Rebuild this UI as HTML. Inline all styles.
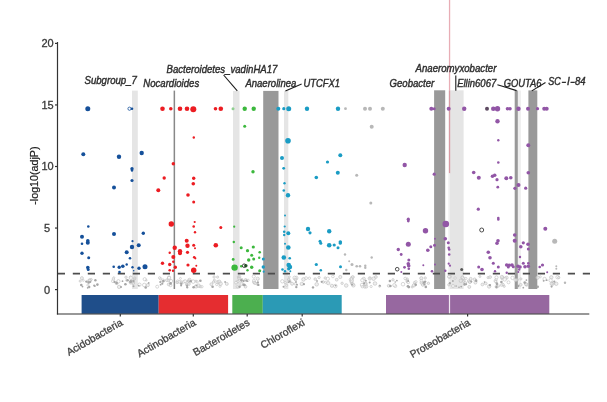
<!DOCTYPE html>
<html><head><meta charset="utf-8">
<style>
html,body{margin:0;padding:0;background:#fff;}
body{width:607px;height:402px;overflow:hidden;}
svg{display:block;filter:blur(0.35px);}
text{font-family:"Liberation Sans",Arial,sans-serif;}
.lab{font-style:italic;font-size:10.2px;fill:#2e2e2e;stroke:#2e2e2e;stroke-width:0.4px;}
.yt{font-size:11px;fill:#3a3a3a;stroke:#3a3a3a;stroke-width:0.3px;}
.xt{font-size:10.4px;fill:#444;stroke:#444;stroke-width:0.3px;}
</style></head>
<body>
<svg width="607" height="402" viewBox="0 0 607 402">
<rect x="0" y="0" width="607" height="402" fill="#fff"/>
<!-- highlight bars -->
<g id="bars">
<rect x="132" y="90.6" width="5.8" height="198.4" fill="#e5e5e5"/>
<rect x="173.6" y="90.6" width="1.5" height="198.4" fill="#888"/>
<rect x="233" y="90.9" width="6.5" height="198.1" fill="#e5e5e5"/>
<rect x="263.2" y="90.9" width="15.3" height="198.1" fill="#999"/>
<rect x="284" y="90.9" width="4.3" height="198.1" fill="#e5e5e5"/>
<rect x="434.1" y="90.3" width="11.1" height="198.7" fill="#999"/>
<rect x="448.7" y="90.3" width="14.9" height="198.7" fill="#e5e5e5"/>
<rect x="514.7" y="90.5" width="3.2" height="198.5" fill="#999"/>
<rect x="517.9" y="90.5" width="3" height="198.5" fill="#efefef"/>
<rect x="528.4" y="90.4" width="8.9" height="198.6" fill="#999"/>
<rect x="448.9" y="0" width="1.3" height="90.3" fill="#e8adb5"/>
<rect x="448.9" y="90.3" width="1.3" height="83" fill="#d99aa3"/>
<rect x="448.7" y="173.3" width="1.3" height="116" fill="#efefef"/>
</g>
<!-- threshold -->
<line x1="57.8" y1="273.7" x2="590" y2="273.7" stroke="#4d4d4d" stroke-width="1.7" stroke-dasharray="7.2 7.8"/>
<!-- dots -->
<g id="dots"><g id="gray"><circle cx="81.9" cy="278.1" r="1.5" fill="#e2e2e2" fill-opacity="0.6" stroke="#bdbdbd" stroke-width="0.6"/><circle cx="83.2" cy="280.3" r="1.0" fill="#ffffff" fill-opacity="0.6" stroke="#bdbdbd" stroke-width="0.6"/><circle cx="80.2" cy="281.1" r="1.1" fill="#e2e2e2" fill-opacity="0.6" stroke="#bdbdbd" stroke-width="0.6"/><circle cx="82.5" cy="286.6" r="0.9" fill="#a6a6a6"/><circle cx="81.3" cy="285.0" r="1.3" fill="#a6a6a6"/><circle cx="89.5" cy="280.7" r="1.8" fill="#e2e2e2" fill-opacity="0.6" stroke="#bdbdbd" stroke-width="0.6"/><circle cx="91.2" cy="279.5" r="1.1" fill="#e2e2e2" fill-opacity="0.6" stroke="#bdbdbd" stroke-width="0.6"/><circle cx="87.9" cy="285.1" r="1.1" fill="#ffffff" fill-opacity="0.6" stroke="#bdbdbd" stroke-width="0.6"/><circle cx="89.8" cy="280.4" r="1.4" fill="#e2e2e2" fill-opacity="0.6" stroke="#bdbdbd" stroke-width="0.6"/><circle cx="86.4" cy="281.6" r="1.2" fill="#a6a6a6"/><circle cx="88.6" cy="282.5" r="1.1" fill="#a6a6a6"/><circle cx="88.7" cy="282.4" r="1.2" fill="#a6a6a6"/><circle cx="90.2" cy="282.0" r="1.1" fill="#a6a6a6"/><circle cx="89.2" cy="287.0" r="1.2" fill="#a6a6a6"/><circle cx="87.7" cy="287.8" r="0.9" fill="#a6a6a6"/><circle cx="94.9" cy="286.1" r="0.9" fill="#a6a6a6"/><circle cx="95.4" cy="280.3" r="1.2" fill="#a6a6a6"/><circle cx="97.4" cy="284.6" r="1.3" fill="#a6a6a6"/><circle cx="94.2" cy="285.6" r="1.1" fill="#a6a6a6"/><circle cx="118.4" cy="281.3" r="1.7" fill="#ffffff" fill-opacity="0.6" stroke="#bdbdbd" stroke-width="0.6"/><circle cx="117.2" cy="283.5" r="1.0" fill="#ffffff" fill-opacity="0.6" stroke="#bdbdbd" stroke-width="0.6"/><circle cx="119.1" cy="286.9" r="1.7" fill="#e2e2e2" fill-opacity="0.6" stroke="#bdbdbd" stroke-width="0.6"/><circle cx="116.2" cy="283.5" r="1.0" fill="#e2e2e2" fill-opacity="0.6" stroke="#bdbdbd" stroke-width="0.6"/><circle cx="113.8" cy="277.7" r="1.0" fill="#ffffff" fill-opacity="0.6" stroke="#bdbdbd" stroke-width="0.6"/><circle cx="113.4" cy="279.1" r="1.3" fill="#ffffff" fill-opacity="0.6" stroke="#bdbdbd" stroke-width="0.6"/><circle cx="112.9" cy="281.2" r="1.4" fill="#ffffff" fill-opacity="0.6" stroke="#bdbdbd" stroke-width="0.6"/><circle cx="121.0" cy="286.9" r="1.0" fill="#a6a6a6"/><circle cx="116.6" cy="282.9" r="1.3" fill="#a6a6a6"/><circle cx="122.5" cy="281.2" r="0.9" fill="#a6a6a6"/><circle cx="114.6" cy="281.9" r="1.1" fill="#a6a6a6"/><circle cx="134.4" cy="279.3" r="1.0" fill="#e2e2e2" fill-opacity="0.6" stroke="#bdbdbd" stroke-width="0.6"/><circle cx="130.9" cy="282.4" r="1.8" fill="#ffffff" fill-opacity="0.6" stroke="#bdbdbd" stroke-width="0.6"/><circle cx="133.2" cy="283.0" r="1.5" fill="#e2e2e2" fill-opacity="0.6" stroke="#bdbdbd" stroke-width="0.6"/><circle cx="139.4" cy="284.7" r="1.7" fill="#ffffff" fill-opacity="0.6" stroke="#bdbdbd" stroke-width="0.6"/><circle cx="131.3" cy="280.7" r="1.1" fill="#ffffff" fill-opacity="0.6" stroke="#bdbdbd" stroke-width="0.6"/><circle cx="126.0" cy="277.2" r="1.2" fill="#e2e2e2" fill-opacity="0.6" stroke="#bdbdbd" stroke-width="0.6"/><circle cx="130.4" cy="277.1" r="1.0" fill="#e2e2e2" fill-opacity="0.6" stroke="#bdbdbd" stroke-width="0.6"/><circle cx="126.6" cy="280.3" r="1.0" fill="#ffffff" fill-opacity="0.6" stroke="#bdbdbd" stroke-width="0.6"/><circle cx="134.8" cy="278.1" r="1.2" fill="#e2e2e2" fill-opacity="0.6" stroke="#bdbdbd" stroke-width="0.6"/><circle cx="130.8" cy="277.8" r="1.7" fill="#ffffff" fill-opacity="0.6" stroke="#bdbdbd" stroke-width="0.6"/><circle cx="132.5" cy="281.6" r="1.1" fill="#e2e2e2" fill-opacity="0.6" stroke="#bdbdbd" stroke-width="0.6"/><circle cx="130.5" cy="282.1" r="1.3" fill="#a6a6a6"/><circle cx="127.6" cy="280.2" r="1.3" fill="#a6a6a6"/><circle cx="133.5" cy="281.2" r="1.1" fill="#a6a6a6"/><circle cx="125.4" cy="284.2" r="1.3" fill="#a6a6a6"/><circle cx="138.8" cy="285.6" r="0.9" fill="#a6a6a6"/><circle cx="130.9" cy="281.3" r="1.2" fill="#a6a6a6"/><circle cx="133.5" cy="286.2" r="1.0" fill="#a6a6a6"/><circle cx="144.3" cy="285.0" r="1.8" fill="#ffffff" fill-opacity="0.6" stroke="#bdbdbd" stroke-width="0.6"/><circle cx="147.8" cy="285.1" r="1.6" fill="#e2e2e2" fill-opacity="0.6" stroke="#bdbdbd" stroke-width="0.6"/><circle cx="146.1" cy="280.2" r="1.0" fill="#e2e2e2" fill-opacity="0.6" stroke="#bdbdbd" stroke-width="0.6"/><circle cx="144.7" cy="279.2" r="1.6" fill="#ffffff" fill-opacity="0.6" stroke="#bdbdbd" stroke-width="0.6"/><circle cx="145.7" cy="287.5" r="1.3" fill="#a6a6a6"/><circle cx="148.7" cy="282.9" r="0.9" fill="#a6a6a6"/><circle cx="160.4" cy="278.6" r="1.2" fill="#ffffff" fill-opacity="0.6" stroke="#bdbdbd" stroke-width="0.6"/><circle cx="170.5" cy="285.3" r="1.4" fill="#ffffff" fill-opacity="0.6" stroke="#bdbdbd" stroke-width="0.6"/><circle cx="169.0" cy="277.4" r="1.5" fill="#ffffff" fill-opacity="0.6" stroke="#bdbdbd" stroke-width="0.6"/><circle cx="168.7" cy="284.4" r="1.4" fill="#e2e2e2" fill-opacity="0.6" stroke="#bdbdbd" stroke-width="0.6"/><circle cx="168.8" cy="280.0" r="1.6" fill="#ffffff" fill-opacity="0.6" stroke="#bdbdbd" stroke-width="0.6"/><circle cx="162.9" cy="280.7" r="1.8" fill="#ffffff" fill-opacity="0.6" stroke="#bdbdbd" stroke-width="0.6"/><circle cx="159.6" cy="277.8" r="1.1" fill="#ffffff" fill-opacity="0.6" stroke="#bdbdbd" stroke-width="0.6"/><circle cx="169.1" cy="278.0" r="1.7" fill="#ffffff" fill-opacity="0.6" stroke="#bdbdbd" stroke-width="0.6"/><circle cx="166.9" cy="280.2" r="1.4" fill="#e2e2e2" fill-opacity="0.6" stroke="#bdbdbd" stroke-width="0.6"/><circle cx="157.2" cy="286.7" r="1.5" fill="#ffffff" fill-opacity="0.6" stroke="#bdbdbd" stroke-width="0.6"/><circle cx="171.0" cy="281.1" r="1.7" fill="#ffffff" fill-opacity="0.6" stroke="#bdbdbd" stroke-width="0.6"/><circle cx="160.2" cy="282.0" r="1.0" fill="#a6a6a6"/><circle cx="160.6" cy="284.7" r="0.9" fill="#a6a6a6"/><circle cx="163.3" cy="281.0" r="1.3" fill="#a6a6a6"/><circle cx="162.3" cy="283.7" r="1.1" fill="#a6a6a6"/><circle cx="170.6" cy="283.4" r="1.3" fill="#a6a6a6"/><circle cx="181.0" cy="282.1" r="1.4" fill="#e2e2e2" fill-opacity="0.6" stroke="#bdbdbd" stroke-width="0.6"/><circle cx="180.4" cy="278.4" r="1.0" fill="#ffffff" fill-opacity="0.6" stroke="#bdbdbd" stroke-width="0.6"/><circle cx="177.7" cy="281.5" r="1.6" fill="#ffffff" fill-opacity="0.6" stroke="#bdbdbd" stroke-width="0.6"/><circle cx="179.3" cy="281.9" r="1.4" fill="#ffffff" fill-opacity="0.6" stroke="#bdbdbd" stroke-width="0.6"/><circle cx="177.1" cy="282.4" r="1.2" fill="#e2e2e2" fill-opacity="0.6" stroke="#bdbdbd" stroke-width="0.6"/><circle cx="183.7" cy="281.8" r="1.4" fill="#ffffff" fill-opacity="0.6" stroke="#bdbdbd" stroke-width="0.6"/><circle cx="185.1" cy="281.2" r="1.5" fill="#ffffff" fill-opacity="0.6" stroke="#bdbdbd" stroke-width="0.6"/><circle cx="181.1" cy="285.5" r="1.0" fill="#a6a6a6"/><circle cx="181.3" cy="283.8" r="1.3" fill="#a6a6a6"/><circle cx="198.6" cy="285.7" r="1.8" fill="#e2e2e2" fill-opacity="0.6" stroke="#bdbdbd" stroke-width="0.6"/><circle cx="196.1" cy="286.4" r="1.7" fill="#e2e2e2" fill-opacity="0.6" stroke="#bdbdbd" stroke-width="0.6"/><circle cx="188.2" cy="281.1" r="1.1" fill="#e2e2e2" fill-opacity="0.6" stroke="#bdbdbd" stroke-width="0.6"/><circle cx="187.3" cy="283.5" r="1.6" fill="#ffffff" fill-opacity="0.6" stroke="#bdbdbd" stroke-width="0.6"/><circle cx="188.8" cy="284.0" r="1.5" fill="#e2e2e2" fill-opacity="0.6" stroke="#bdbdbd" stroke-width="0.6"/><circle cx="201.9" cy="286.7" r="1.2" fill="#ffffff" fill-opacity="0.6" stroke="#bdbdbd" stroke-width="0.6"/><circle cx="193.2" cy="281.6" r="1.8" fill="#ffffff" fill-opacity="0.6" stroke="#bdbdbd" stroke-width="0.6"/><circle cx="188.9" cy="281.0" r="1.4" fill="#e2e2e2" fill-opacity="0.6" stroke="#bdbdbd" stroke-width="0.6"/><circle cx="189.5" cy="279.8" r="1.6" fill="#e2e2e2" fill-opacity="0.6" stroke="#bdbdbd" stroke-width="0.6"/><circle cx="196.0" cy="281.1" r="1.0" fill="#e2e2e2" fill-opacity="0.6" stroke="#bdbdbd" stroke-width="0.6"/><circle cx="197.2" cy="281.9" r="1.1" fill="#ffffff" fill-opacity="0.6" stroke="#bdbdbd" stroke-width="0.6"/><circle cx="200.2" cy="286.7" r="1.1" fill="#e2e2e2" fill-opacity="0.6" stroke="#bdbdbd" stroke-width="0.6"/><circle cx="186.7" cy="284.7" r="1.2" fill="#e2e2e2" fill-opacity="0.6" stroke="#bdbdbd" stroke-width="0.6"/><circle cx="193.6" cy="287.3" r="1.3" fill="#a6a6a6"/><circle cx="190.7" cy="281.2" r="1.3" fill="#a6a6a6"/><circle cx="196.3" cy="285.6" r="0.8" fill="#a6a6a6"/><circle cx="187.0" cy="285.5" r="1.0" fill="#a6a6a6"/><circle cx="187.3" cy="287.5" r="1.1" fill="#a6a6a6"/><circle cx="200.4" cy="280.7" r="1.3" fill="#a6a6a6"/><circle cx="187.2" cy="286.9" r="1.0" fill="#a6a6a6"/><circle cx="217.4" cy="282.3" r="1.7" fill="#e2e2e2" fill-opacity="0.6" stroke="#bdbdbd" stroke-width="0.6"/><circle cx="213.5" cy="282.0" r="1.2" fill="#e2e2e2" fill-opacity="0.6" stroke="#bdbdbd" stroke-width="0.6"/><circle cx="214.1" cy="277.0" r="1.2" fill="#e2e2e2" fill-opacity="0.6" stroke="#bdbdbd" stroke-width="0.6"/><circle cx="216.8" cy="284.5" r="1.2" fill="#ffffff" fill-opacity="0.6" stroke="#bdbdbd" stroke-width="0.6"/><circle cx="214.4" cy="280.1" r="1.0" fill="#e2e2e2" fill-opacity="0.6" stroke="#bdbdbd" stroke-width="0.6"/><circle cx="211.3" cy="284.2" r="1.4" fill="#e2e2e2" fill-opacity="0.6" stroke="#bdbdbd" stroke-width="0.6"/><circle cx="220.0" cy="286.3" r="1.1" fill="#ffffff" fill-opacity="0.6" stroke="#bdbdbd" stroke-width="0.6"/><circle cx="219.2" cy="281.7" r="1.7" fill="#e2e2e2" fill-opacity="0.6" stroke="#bdbdbd" stroke-width="0.6"/><circle cx="220.6" cy="283.7" r="1.8" fill="#e2e2e2" fill-opacity="0.6" stroke="#bdbdbd" stroke-width="0.6"/><circle cx="226.8" cy="283.9" r="1.5" fill="#e2e2e2" fill-opacity="0.6" stroke="#bdbdbd" stroke-width="0.6"/><circle cx="217.6" cy="277.1" r="1.1" fill="#e2e2e2" fill-opacity="0.6" stroke="#bdbdbd" stroke-width="0.6"/><circle cx="225.1" cy="282.0" r="0.9" fill="#a6a6a6"/><circle cx="212.6" cy="286.7" r="1.3" fill="#a6a6a6"/><circle cx="241.7" cy="279.5" r="1.2" fill="#e2e2e2" fill-opacity="0.6" stroke="#bdbdbd" stroke-width="0.6"/><circle cx="239.0" cy="278.2" r="1.4" fill="#e2e2e2" fill-opacity="0.6" stroke="#bdbdbd" stroke-width="0.6"/><circle cx="245.5" cy="286.7" r="1.4" fill="#e2e2e2" fill-opacity="0.6" stroke="#bdbdbd" stroke-width="0.6"/><circle cx="245.6" cy="279.8" r="1.3" fill="#e2e2e2" fill-opacity="0.6" stroke="#bdbdbd" stroke-width="0.6"/><circle cx="238.0" cy="281.5" r="1.4" fill="#e2e2e2" fill-opacity="0.6" stroke="#bdbdbd" stroke-width="0.6"/><circle cx="239.6" cy="276.6" r="1.2" fill="#e2e2e2" fill-opacity="0.6" stroke="#bdbdbd" stroke-width="0.6"/><circle cx="238.2" cy="276.9" r="1.0" fill="#e2e2e2" fill-opacity="0.6" stroke="#bdbdbd" stroke-width="0.6"/><circle cx="236.0" cy="282.6" r="1.4" fill="#ffffff" fill-opacity="0.6" stroke="#bdbdbd" stroke-width="0.6"/><circle cx="241.5" cy="284.0" r="1.7" fill="#e2e2e2" fill-opacity="0.6" stroke="#bdbdbd" stroke-width="0.6"/><circle cx="237.2" cy="286.8" r="1.1" fill="#ffffff" fill-opacity="0.6" stroke="#bdbdbd" stroke-width="0.6"/><circle cx="241.4" cy="280.4" r="1.3" fill="#a6a6a6"/><circle cx="244.6" cy="285.0" r="1.2" fill="#a6a6a6"/><circle cx="243.6" cy="281.1" r="1.1" fill="#a6a6a6"/><circle cx="239.6" cy="286.7" r="1.2" fill="#a6a6a6"/><circle cx="243.7" cy="284.7" r="1.3" fill="#a6a6a6"/><circle cx="256.9" cy="283.8" r="1.2" fill="#e2e2e2" fill-opacity="0.6" stroke="#bdbdbd" stroke-width="0.6"/><circle cx="248.1" cy="280.3" r="1.1" fill="#ffffff" fill-opacity="0.6" stroke="#bdbdbd" stroke-width="0.6"/><circle cx="254.9" cy="283.1" r="1.5" fill="#ffffff" fill-opacity="0.6" stroke="#bdbdbd" stroke-width="0.6"/><circle cx="253.8" cy="276.5" r="1.6" fill="#ffffff" fill-opacity="0.6" stroke="#bdbdbd" stroke-width="0.6"/><circle cx="254.0" cy="282.1" r="1.5" fill="#e2e2e2" fill-opacity="0.6" stroke="#bdbdbd" stroke-width="0.6"/><circle cx="257.8" cy="279.1" r="1.1" fill="#e2e2e2" fill-opacity="0.6" stroke="#bdbdbd" stroke-width="0.6"/><circle cx="257.7" cy="278.7" r="1.6" fill="#ffffff" fill-opacity="0.6" stroke="#bdbdbd" stroke-width="0.6"/><circle cx="253.9" cy="280.5" r="1.4" fill="#ffffff" fill-opacity="0.6" stroke="#bdbdbd" stroke-width="0.6"/><circle cx="258.3" cy="284.9" r="1.2" fill="#a6a6a6"/><circle cx="247.2" cy="281.2" r="0.9" fill="#a6a6a6"/><circle cx="257.9" cy="282.4" r="1.1" fill="#a6a6a6"/><circle cx="246.2" cy="280.5" r="0.9" fill="#a6a6a6"/><circle cx="292.1" cy="283.8" r="1.5" fill="#e2e2e2" fill-opacity="0.6" stroke="#bdbdbd" stroke-width="0.6"/><circle cx="289.7" cy="281.4" r="1.4" fill="#e2e2e2" fill-opacity="0.6" stroke="#bdbdbd" stroke-width="0.6"/><circle cx="295.4" cy="278.6" r="1.8" fill="#ffffff" fill-opacity="0.6" stroke="#bdbdbd" stroke-width="0.6"/><circle cx="282.3" cy="281.3" r="1.7" fill="#ffffff" fill-opacity="0.6" stroke="#bdbdbd" stroke-width="0.6"/><circle cx="288.7" cy="279.3" r="1.2" fill="#ffffff" fill-opacity="0.6" stroke="#bdbdbd" stroke-width="0.6"/><circle cx="285.2" cy="282.6" r="1.1" fill="#ffffff" fill-opacity="0.6" stroke="#bdbdbd" stroke-width="0.6"/><circle cx="296.3" cy="277.9" r="1.7" fill="#ffffff" fill-opacity="0.6" stroke="#bdbdbd" stroke-width="0.6"/><circle cx="295.3" cy="283.9" r="1.2" fill="#ffffff" fill-opacity="0.6" stroke="#bdbdbd" stroke-width="0.6"/><circle cx="289.3" cy="276.8" r="1.0" fill="#e2e2e2" fill-opacity="0.6" stroke="#bdbdbd" stroke-width="0.6"/><circle cx="288.8" cy="279.7" r="1.1" fill="#e2e2e2" fill-opacity="0.6" stroke="#bdbdbd" stroke-width="0.6"/><circle cx="286.7" cy="285.3" r="1.0" fill="#ffffff" fill-opacity="0.6" stroke="#bdbdbd" stroke-width="0.6"/><circle cx="294.6" cy="277.8" r="1.7" fill="#ffffff" fill-opacity="0.6" stroke="#bdbdbd" stroke-width="0.6"/><circle cx="295.5" cy="279.5" r="1.3" fill="#e2e2e2" fill-opacity="0.6" stroke="#bdbdbd" stroke-width="0.6"/><circle cx="297.0" cy="284.7" r="1.0" fill="#a6a6a6"/><circle cx="288.4" cy="282.2" r="0.8" fill="#a6a6a6"/><circle cx="283.5" cy="286.7" r="1.0" fill="#a6a6a6"/><circle cx="296.0" cy="282.0" r="0.9" fill="#a6a6a6"/><circle cx="289.7" cy="281.5" r="1.0" fill="#a6a6a6"/><circle cx="296.3" cy="287.1" r="1.2" fill="#a6a6a6"/><circle cx="335.3" cy="286.1" r="1.8" fill="#ffffff" fill-opacity="0.6" stroke="#bdbdbd" stroke-width="0.6"/><circle cx="340.3" cy="277.0" r="1.6" fill="#e2e2e2" fill-opacity="0.6" stroke="#bdbdbd" stroke-width="0.6"/><circle cx="342.1" cy="283.3" r="1.2" fill="#e2e2e2" fill-opacity="0.6" stroke="#bdbdbd" stroke-width="0.6"/><circle cx="351.9" cy="277.8" r="1.4" fill="#e2e2e2" fill-opacity="0.6" stroke="#bdbdbd" stroke-width="0.6"/><circle cx="316.7" cy="284.3" r="1.8" fill="#e2e2e2" fill-opacity="0.6" stroke="#bdbdbd" stroke-width="0.6"/><circle cx="336.7" cy="279.7" r="1.4" fill="#e2e2e2" fill-opacity="0.6" stroke="#bdbdbd" stroke-width="0.6"/><circle cx="309.4" cy="278.2" r="1.2" fill="#ffffff" fill-opacity="0.6" stroke="#bdbdbd" stroke-width="0.6"/><circle cx="327.8" cy="278.8" r="1.7" fill="#ffffff" fill-opacity="0.6" stroke="#bdbdbd" stroke-width="0.6"/><circle cx="325.2" cy="278.0" r="1.2" fill="#e2e2e2" fill-opacity="0.6" stroke="#bdbdbd" stroke-width="0.6"/><circle cx="319.1" cy="277.5" r="1.2" fill="#e2e2e2" fill-opacity="0.6" stroke="#bdbdbd" stroke-width="0.6"/><circle cx="331.9" cy="285.8" r="1.6" fill="#e2e2e2" fill-opacity="0.6" stroke="#bdbdbd" stroke-width="0.6"/><circle cx="323.2" cy="282.0" r="1.3" fill="#e2e2e2" fill-opacity="0.6" stroke="#bdbdbd" stroke-width="0.6"/><circle cx="303.5" cy="279.4" r="1.8" fill="#e2e2e2" fill-opacity="0.6" stroke="#bdbdbd" stroke-width="0.6"/><circle cx="328.2" cy="283.1" r="1.7" fill="#e2e2e2" fill-opacity="0.6" stroke="#bdbdbd" stroke-width="0.6"/><circle cx="315.2" cy="279.1" r="1.3" fill="#e2e2e2" fill-opacity="0.6" stroke="#bdbdbd" stroke-width="0.6"/><circle cx="353.4" cy="285.4" r="1.7" fill="#e2e2e2" fill-opacity="0.6" stroke="#bdbdbd" stroke-width="0.6"/><circle cx="301.8" cy="283.9" r="1.7" fill="#e2e2e2" fill-opacity="0.6" stroke="#bdbdbd" stroke-width="0.6"/><circle cx="332.9" cy="276.5" r="1.3" fill="#ffffff" fill-opacity="0.6" stroke="#bdbdbd" stroke-width="0.6"/><circle cx="346.2" cy="285.5" r="1.8" fill="#e2e2e2" fill-opacity="0.6" stroke="#bdbdbd" stroke-width="0.6"/><circle cx="306.1" cy="278.1" r="1.4" fill="#ffffff" fill-opacity="0.6" stroke="#bdbdbd" stroke-width="0.6"/><circle cx="352.7" cy="284.1" r="1.5" fill="#ffffff" fill-opacity="0.6" stroke="#bdbdbd" stroke-width="0.6"/><circle cx="325.6" cy="282.3" r="1.0" fill="#ffffff" fill-opacity="0.6" stroke="#bdbdbd" stroke-width="0.6"/><circle cx="313.0" cy="287.4" r="1.2" fill="#a6a6a6"/><circle cx="317.0" cy="281.0" r="0.9" fill="#a6a6a6"/><circle cx="335.6" cy="285.6" r="0.9" fill="#a6a6a6"/><circle cx="303.9" cy="284.2" r="1.1" fill="#a6a6a6"/><circle cx="321.7" cy="281.8" r="1.1" fill="#a6a6a6"/><circle cx="350.6" cy="279.7" r="1.4" fill="#ffffff" fill-opacity="0.6" stroke="#bdbdbd" stroke-width="0.6"/><circle cx="388.7" cy="285.8" r="1.4" fill="#e2e2e2" fill-opacity="0.6" stroke="#bdbdbd" stroke-width="0.6"/><circle cx="364.8" cy="286.6" r="1.6" fill="#e2e2e2" fill-opacity="0.6" stroke="#bdbdbd" stroke-width="0.6"/><circle cx="351.3" cy="281.7" r="1.5" fill="#e2e2e2" fill-opacity="0.6" stroke="#bdbdbd" stroke-width="0.6"/><circle cx="365.4" cy="283.5" r="1.7" fill="#e2e2e2" fill-opacity="0.6" stroke="#bdbdbd" stroke-width="0.6"/><circle cx="352.0" cy="280.0" r="1.3" fill="#ffffff" fill-opacity="0.6" stroke="#bdbdbd" stroke-width="0.6"/><circle cx="361.9" cy="284.9" r="1.6" fill="#ffffff" fill-opacity="0.6" stroke="#bdbdbd" stroke-width="0.6"/><circle cx="362.3" cy="286.7" r="1.2" fill="#ffffff" fill-opacity="0.6" stroke="#bdbdbd" stroke-width="0.6"/><circle cx="363.8" cy="278.8" r="1.6" fill="#e2e2e2" fill-opacity="0.6" stroke="#bdbdbd" stroke-width="0.6"/><circle cx="407.1" cy="281.7" r="1.1" fill="#e2e2e2" fill-opacity="0.6" stroke="#bdbdbd" stroke-width="0.6"/><circle cx="375.0" cy="283.5" r="1.8" fill="#e2e2e2" fill-opacity="0.6" stroke="#bdbdbd" stroke-width="0.6"/><circle cx="373.6" cy="278.7" r="1.8" fill="#e2e2e2" fill-opacity="0.6" stroke="#bdbdbd" stroke-width="0.6"/><circle cx="353.1" cy="277.1" r="1.3" fill="#ffffff" fill-opacity="0.6" stroke="#bdbdbd" stroke-width="0.6"/><circle cx="403.0" cy="284.2" r="1.8" fill="#ffffff" fill-opacity="0.6" stroke="#bdbdbd" stroke-width="0.6"/><circle cx="369.8" cy="278.4" r="1.7" fill="#ffffff" fill-opacity="0.6" stroke="#bdbdbd" stroke-width="0.6"/><circle cx="351.9" cy="283.5" r="1.3" fill="#e2e2e2" fill-opacity="0.6" stroke="#bdbdbd" stroke-width="0.6"/><circle cx="369.9" cy="278.3" r="1.0" fill="#e2e2e2" fill-opacity="0.6" stroke="#bdbdbd" stroke-width="0.6"/><circle cx="371.1" cy="286.5" r="1.1" fill="#ffffff" fill-opacity="0.6" stroke="#bdbdbd" stroke-width="0.6"/><circle cx="362.4" cy="280.2" r="1.7" fill="#ffffff" fill-opacity="0.6" stroke="#bdbdbd" stroke-width="0.6"/><circle cx="375.9" cy="277.0" r="1.4" fill="#e2e2e2" fill-opacity="0.6" stroke="#bdbdbd" stroke-width="0.6"/><circle cx="405.2" cy="278.5" r="1.3" fill="#ffffff" fill-opacity="0.6" stroke="#bdbdbd" stroke-width="0.6"/><circle cx="351.8" cy="280.8" r="1.6" fill="#ffffff" fill-opacity="0.6" stroke="#bdbdbd" stroke-width="0.6"/><circle cx="352.4" cy="276.9" r="1.1" fill="#ffffff" fill-opacity="0.6" stroke="#bdbdbd" stroke-width="0.6"/><circle cx="365.4" cy="284.3" r="1.7" fill="#e2e2e2" fill-opacity="0.6" stroke="#bdbdbd" stroke-width="0.6"/><circle cx="366.3" cy="286.6" r="1.5" fill="#e2e2e2" fill-opacity="0.6" stroke="#bdbdbd" stroke-width="0.6"/><circle cx="393.0" cy="279.8" r="1.2" fill="#e2e2e2" fill-opacity="0.6" stroke="#bdbdbd" stroke-width="0.6"/><circle cx="395.3" cy="286.1" r="1.5" fill="#ffffff" fill-opacity="0.6" stroke="#bdbdbd" stroke-width="0.6"/><circle cx="351.5" cy="279.0" r="1.4" fill="#ffffff" fill-opacity="0.6" stroke="#bdbdbd" stroke-width="0.6"/><circle cx="407.2" cy="280.6" r="1.2" fill="#e2e2e2" fill-opacity="0.6" stroke="#bdbdbd" stroke-width="0.6"/><circle cx="379.6" cy="286.2" r="1.1" fill="#ffffff" fill-opacity="0.6" stroke="#bdbdbd" stroke-width="0.6"/><circle cx="394.3" cy="285.1" r="1.6" fill="#ffffff" fill-opacity="0.6" stroke="#bdbdbd" stroke-width="0.6"/><circle cx="369.7" cy="282.6" r="1.0" fill="#a6a6a6"/><circle cx="396.9" cy="280.6" r="0.9" fill="#a6a6a6"/><circle cx="395.2" cy="282.0" r="0.8" fill="#a6a6a6"/><circle cx="352.0" cy="284.4" r="1.0" fill="#a6a6a6"/><circle cx="408.8" cy="287.1" r="1.3" fill="#a6a6a6"/><circle cx="365.9" cy="280.7" r="0.9" fill="#a6a6a6"/><circle cx="379.9" cy="285.7" r="1.0" fill="#a6a6a6"/><circle cx="364.1" cy="283.3" r="1.1" fill="#a6a6a6"/><circle cx="390.4" cy="286.0" r="1.3" fill="#a6a6a6"/><circle cx="389.9" cy="281.0" r="1.3" fill="#a6a6a6"/><circle cx="408.2" cy="282.5" r="1.3" fill="#ffffff" fill-opacity="0.6" stroke="#bdbdbd" stroke-width="0.6"/><circle cx="407.2" cy="279.1" r="1.2" fill="#e2e2e2" fill-opacity="0.6" stroke="#bdbdbd" stroke-width="0.6"/><circle cx="414.7" cy="282.6" r="1.3" fill="#e2e2e2" fill-opacity="0.6" stroke="#bdbdbd" stroke-width="0.6"/><circle cx="415.9" cy="281.8" r="1.2" fill="#ffffff" fill-opacity="0.6" stroke="#bdbdbd" stroke-width="0.6"/><circle cx="412.2" cy="286.9" r="1.1" fill="#e2e2e2" fill-opacity="0.6" stroke="#bdbdbd" stroke-width="0.6"/><circle cx="414.0" cy="285.3" r="1.7" fill="#e2e2e2" fill-opacity="0.6" stroke="#bdbdbd" stroke-width="0.6"/><circle cx="408.2" cy="281.0" r="0.9" fill="#a6a6a6"/><circle cx="415.7" cy="284.7" r="1.3" fill="#a6a6a6"/><circle cx="409.1" cy="286.9" r="1.0" fill="#a6a6a6"/><circle cx="407.9" cy="286.2" r="1.3" fill="#a6a6a6"/><circle cx="421.5" cy="282.8" r="1.5" fill="#e2e2e2" fill-opacity="0.6" stroke="#bdbdbd" stroke-width="0.6"/><circle cx="425.2" cy="278.0" r="1.2" fill="#e2e2e2" fill-opacity="0.6" stroke="#bdbdbd" stroke-width="0.6"/><circle cx="428.4" cy="283.3" r="1.2" fill="#e2e2e2" fill-opacity="0.6" stroke="#bdbdbd" stroke-width="0.6"/><circle cx="424.6" cy="283.6" r="1.1" fill="#e2e2e2" fill-opacity="0.6" stroke="#bdbdbd" stroke-width="0.6"/><circle cx="422.8" cy="284.9" r="1.4" fill="#e2e2e2" fill-opacity="0.6" stroke="#bdbdbd" stroke-width="0.6"/><circle cx="421.4" cy="280.7" r="1.4" fill="#ffffff" fill-opacity="0.6" stroke="#bdbdbd" stroke-width="0.6"/><circle cx="421.3" cy="278.2" r="1.6" fill="#e2e2e2" fill-opacity="0.6" stroke="#bdbdbd" stroke-width="0.6"/><circle cx="424.0" cy="282.5" r="1.3" fill="#a6a6a6"/><circle cx="424.4" cy="284.5" r="1.0" fill="#a6a6a6"/><circle cx="425.8" cy="286.9" r="1.3" fill="#a6a6a6"/><circle cx="425.1" cy="281.6" r="1.2" fill="#a6a6a6"/><circle cx="449.7" cy="276.6" r="1.7" fill="#e2e2e2" fill-opacity="0.6" stroke="#bdbdbd" stroke-width="0.6"/><circle cx="460.8" cy="280.8" r="1.7" fill="#e2e2e2" fill-opacity="0.6" stroke="#bdbdbd" stroke-width="0.6"/><circle cx="448.9" cy="276.7" r="1.4" fill="#ffffff" fill-opacity="0.6" stroke="#bdbdbd" stroke-width="0.6"/><circle cx="462.4" cy="277.4" r="1.5" fill="#e2e2e2" fill-opacity="0.6" stroke="#bdbdbd" stroke-width="0.6"/><circle cx="455.1" cy="278.0" r="1.2" fill="#ffffff" fill-opacity="0.6" stroke="#bdbdbd" stroke-width="0.6"/><circle cx="462.7" cy="277.6" r="1.4" fill="#ffffff" fill-opacity="0.6" stroke="#bdbdbd" stroke-width="0.6"/><circle cx="463.4" cy="278.6" r="1.1" fill="#ffffff" fill-opacity="0.6" stroke="#bdbdbd" stroke-width="0.6"/><circle cx="463.6" cy="281.6" r="1.0" fill="#ffffff" fill-opacity="0.6" stroke="#bdbdbd" stroke-width="0.6"/><circle cx="453.0" cy="286.0" r="1.5" fill="#ffffff" fill-opacity="0.6" stroke="#bdbdbd" stroke-width="0.6"/><circle cx="448.9" cy="284.8" r="1.2" fill="#e2e2e2" fill-opacity="0.6" stroke="#bdbdbd" stroke-width="0.6"/><circle cx="461.2" cy="286.6" r="0.9" fill="#a6a6a6"/><circle cx="449.9" cy="283.2" r="1.1" fill="#a6a6a6"/><circle cx="452.9" cy="281.0" r="0.9" fill="#a6a6a6"/><circle cx="459.0" cy="287.2" r="0.8" fill="#a6a6a6"/><circle cx="456.1" cy="286.1" r="0.8" fill="#a6a6a6"/><circle cx="506.7" cy="277.7" r="1.5" fill="#ffffff" fill-opacity="0.6" stroke="#bdbdbd" stroke-width="0.6"/><circle cx="496.0" cy="279.7" r="1.3" fill="#ffffff" fill-opacity="0.6" stroke="#bdbdbd" stroke-width="0.6"/><circle cx="485.7" cy="283.4" r="1.4" fill="#e2e2e2" fill-opacity="0.6" stroke="#bdbdbd" stroke-width="0.6"/><circle cx="465.2" cy="283.0" r="1.4" fill="#e2e2e2" fill-opacity="0.6" stroke="#bdbdbd" stroke-width="0.6"/><circle cx="502.9" cy="284.7" r="1.4" fill="#e2e2e2" fill-opacity="0.6" stroke="#bdbdbd" stroke-width="0.6"/><circle cx="488.1" cy="277.6" r="1.1" fill="#e2e2e2" fill-opacity="0.6" stroke="#bdbdbd" stroke-width="0.6"/><circle cx="468.7" cy="281.1" r="1.4" fill="#e2e2e2" fill-opacity="0.6" stroke="#bdbdbd" stroke-width="0.6"/><circle cx="496.5" cy="277.4" r="1.6" fill="#ffffff" fill-opacity="0.6" stroke="#bdbdbd" stroke-width="0.6"/><circle cx="490.1" cy="277.1" r="1.4" fill="#e2e2e2" fill-opacity="0.6" stroke="#bdbdbd" stroke-width="0.6"/><circle cx="512.5" cy="277.9" r="1.7" fill="#ffffff" fill-opacity="0.6" stroke="#bdbdbd" stroke-width="0.6"/><circle cx="501.3" cy="285.1" r="1.2" fill="#ffffff" fill-opacity="0.6" stroke="#bdbdbd" stroke-width="0.6"/><circle cx="489.1" cy="286.5" r="1.7" fill="#e2e2e2" fill-opacity="0.6" stroke="#bdbdbd" stroke-width="0.6"/><circle cx="504.2" cy="286.3" r="1.1" fill="#e2e2e2" fill-opacity="0.6" stroke="#bdbdbd" stroke-width="0.6"/><circle cx="502.6" cy="278.2" r="1.7" fill="#e2e2e2" fill-opacity="0.6" stroke="#bdbdbd" stroke-width="0.6"/><circle cx="505.6" cy="278.0" r="1.4" fill="#ffffff" fill-opacity="0.6" stroke="#bdbdbd" stroke-width="0.6"/><circle cx="474.6" cy="279.3" r="1.4" fill="#e2e2e2" fill-opacity="0.6" stroke="#bdbdbd" stroke-width="0.6"/><circle cx="465.9" cy="278.4" r="1.1" fill="#ffffff" fill-opacity="0.6" stroke="#bdbdbd" stroke-width="0.6"/><circle cx="498.7" cy="285.9" r="1.1" fill="#ffffff" fill-opacity="0.6" stroke="#bdbdbd" stroke-width="0.6"/><circle cx="469.9" cy="282.1" r="1.5" fill="#e2e2e2" fill-opacity="0.6" stroke="#bdbdbd" stroke-width="0.6"/><circle cx="508.5" cy="282.3" r="1.5" fill="#ffffff" fill-opacity="0.6" stroke="#bdbdbd" stroke-width="0.6"/><circle cx="469.3" cy="286.9" r="1.5" fill="#e2e2e2" fill-opacity="0.6" stroke="#bdbdbd" stroke-width="0.6"/><circle cx="504.7" cy="279.3" r="1.8" fill="#ffffff" fill-opacity="0.6" stroke="#bdbdbd" stroke-width="0.6"/><circle cx="482.4" cy="284.5" r="1.4" fill="#e2e2e2" fill-opacity="0.6" stroke="#bdbdbd" stroke-width="0.6"/><circle cx="501.9" cy="277.0" r="1.7" fill="#e2e2e2" fill-opacity="0.6" stroke="#bdbdbd" stroke-width="0.6"/><circle cx="496.6" cy="286.8" r="1.5" fill="#ffffff" fill-opacity="0.6" stroke="#bdbdbd" stroke-width="0.6"/><circle cx="479.9" cy="276.5" r="1.0" fill="#e2e2e2" fill-opacity="0.6" stroke="#bdbdbd" stroke-width="0.6"/><circle cx="495.4" cy="281.0" r="1.4" fill="#ffffff" fill-opacity="0.6" stroke="#bdbdbd" stroke-width="0.6"/><circle cx="470.7" cy="278.9" r="1.5" fill="#e2e2e2" fill-opacity="0.6" stroke="#bdbdbd" stroke-width="0.6"/><circle cx="464.1" cy="280.2" r="1.1" fill="#e2e2e2" fill-opacity="0.6" stroke="#bdbdbd" stroke-width="0.6"/><circle cx="475.4" cy="282.6" r="1.5" fill="#e2e2e2" fill-opacity="0.6" stroke="#bdbdbd" stroke-width="0.6"/><circle cx="495.8" cy="281.5" r="1.1" fill="#ffffff" fill-opacity="0.6" stroke="#bdbdbd" stroke-width="0.6"/><circle cx="476.4" cy="281.2" r="0.9" fill="#a6a6a6"/><circle cx="496.5" cy="287.0" r="1.2" fill="#a6a6a6"/><circle cx="484.5" cy="282.1" r="0.8" fill="#a6a6a6"/><circle cx="496.9" cy="284.5" r="1.0" fill="#a6a6a6"/><circle cx="496.9" cy="283.6" r="1.3" fill="#a6a6a6"/><circle cx="501.4" cy="282.0" r="1.3" fill="#a6a6a6"/><circle cx="466.2" cy="284.3" r="1.0" fill="#a6a6a6"/><circle cx="476.1" cy="280.5" r="1.2" fill="#a6a6a6"/><circle cx="464.6" cy="284.4" r="1.3" fill="#a6a6a6"/><circle cx="471.3" cy="281.6" r="1.1" fill="#a6a6a6"/><circle cx="489.9" cy="285.1" r="1.2" fill="#a6a6a6"/><circle cx="517.3" cy="279.7" r="1.2" fill="#e2e2e2" fill-opacity="0.6" stroke="#bdbdbd" stroke-width="0.6"/><circle cx="526.6" cy="284.7" r="1.6" fill="#e2e2e2" fill-opacity="0.6" stroke="#bdbdbd" stroke-width="0.6"/><circle cx="526.0" cy="284.3" r="1.4" fill="#ffffff" fill-opacity="0.6" stroke="#bdbdbd" stroke-width="0.6"/><circle cx="520.9" cy="278.9" r="1.1" fill="#e2e2e2" fill-opacity="0.6" stroke="#bdbdbd" stroke-width="0.6"/><circle cx="515.5" cy="280.0" r="1.6" fill="#ffffff" fill-opacity="0.6" stroke="#bdbdbd" stroke-width="0.6"/><circle cx="526.0" cy="284.0" r="1.2" fill="#ffffff" fill-opacity="0.6" stroke="#bdbdbd" stroke-width="0.6"/><circle cx="520.7" cy="284.8" r="1.4" fill="#e2e2e2" fill-opacity="0.6" stroke="#bdbdbd" stroke-width="0.6"/><circle cx="523.3" cy="287.7" r="0.9" fill="#a6a6a6"/><circle cx="526.4" cy="280.1" r="0.9" fill="#a6a6a6"/><circle cx="518.1" cy="286.0" r="1.3" fill="#a6a6a6"/><circle cx="524.7" cy="282.6" r="1.3" fill="#a6a6a6"/><circle cx="544.6" cy="279.0" r="1.7" fill="#ffffff" fill-opacity="0.6" stroke="#bdbdbd" stroke-width="0.6"/><circle cx="552.9" cy="283.5" r="1.8" fill="#e2e2e2" fill-opacity="0.6" stroke="#bdbdbd" stroke-width="0.6"/><circle cx="556.3" cy="283.8" r="1.7" fill="#e2e2e2" fill-opacity="0.6" stroke="#bdbdbd" stroke-width="0.6"/><circle cx="553.7" cy="282.5" r="1.2" fill="#e2e2e2" fill-opacity="0.6" stroke="#bdbdbd" stroke-width="0.6"/><circle cx="551.3" cy="277.3" r="1.7" fill="#e2e2e2" fill-opacity="0.6" stroke="#bdbdbd" stroke-width="0.6"/><circle cx="537.6" cy="277.6" r="1.7" fill="#e2e2e2" fill-opacity="0.6" stroke="#bdbdbd" stroke-width="0.6"/><circle cx="540.3" cy="276.8" r="1.0" fill="#ffffff" fill-opacity="0.6" stroke="#bdbdbd" stroke-width="0.6"/><circle cx="551.6" cy="283.8" r="1.6" fill="#e2e2e2" fill-opacity="0.6" stroke="#bdbdbd" stroke-width="0.6"/><circle cx="550.6" cy="280.3" r="1.7" fill="#ffffff" fill-opacity="0.6" stroke="#bdbdbd" stroke-width="0.6"/><circle cx="557.5" cy="277.2" r="1.7" fill="#ffffff" fill-opacity="0.6" stroke="#bdbdbd" stroke-width="0.6"/><circle cx="558.7" cy="277.6" r="1.2" fill="#e2e2e2" fill-opacity="0.6" stroke="#bdbdbd" stroke-width="0.6"/><circle cx="537.8" cy="286.8" r="1.2" fill="#a6a6a6"/><circle cx="551.6" cy="286.6" r="1.1" fill="#a6a6a6"/><circle cx="543.6" cy="280.8" r="0.9" fill="#a6a6a6"/><circle cx="554.4" cy="281.6" r="1.0" fill="#a6a6a6"/><circle cx="546.7" cy="280.2" r="0.9" fill="#a6a6a6"/></g><g fill="#b8b8b8"><circle cx="345.5" cy="108.7" r="1.4"/><circle cx="365" cy="108.7" r="2"/><circle cx="370" cy="108.7" r="2"/><circle cx="382.8" cy="108.7" r="2"/><circle cx="371.7" cy="126.7" r="2"/><circle cx="356.7" cy="175.3" r="1.5"/><circle cx="370.8" cy="203" r="1.5"/><circle cx="345" cy="254.5" r="1.2"/><circle cx="349.2" cy="261.2" r="1"/><circle cx="352" cy="264.5" r="1.5"/><circle cx="356.7" cy="266.2" r="1.3"/><circle cx="360" cy="266.2" r="1.3"/><circle cx="365.3" cy="265.7" r="1.2"/><circle cx="365.3" cy="267.8" r="1.2"/><circle cx="371.7" cy="257.5" r="1.2"/><circle cx="346.3" cy="270" r="1.2"/><circle cx="554.7" cy="241.2" r="2.5"/><circle cx="556.3" cy="266.2" r="1"/><circle cx="556.3" cy="268.7" r="1"/><circle cx="565" cy="282.8" r="1.2"/></g><g fill="#15509a"><circle cx="87.8" cy="108.8" r="2.5"/><circle cx="132" cy="108.7" r="1.3"/><circle cx="83.3" cy="154.2" r="2"/><circle cx="119" cy="156.7" r="2.2"/><circle cx="141.7" cy="153" r="2.2"/><circle cx="132" cy="168.7" r="1.7"/><circle cx="132" cy="170.5" r="1.2"/><circle cx="132" cy="180.5" r="1.6"/><circle cx="114" cy="187.5" r="2"/><circle cx="88.3" cy="226.5" r="1.3"/><circle cx="82" cy="236.7" r="2"/><circle cx="87.8" cy="240.7" r="1.8"/><circle cx="87.8" cy="242.8" r="2"/><circle cx="82" cy="243.7" r="1.3"/><circle cx="82" cy="253.3" r="1.7"/><circle cx="88.7" cy="257.8" r="1.5"/><circle cx="87.8" cy="267.6" r="1.8"/><circle cx="88.2" cy="269.6" r="1.5"/><circle cx="114" cy="234" r="2"/><circle cx="143.3" cy="233.3" r="1.7"/><circle cx="132.5" cy="241.2" r="1.1"/><circle cx="138.7" cy="245.3" r="2"/><circle cx="132" cy="247" r="2.2"/><circle cx="126.7" cy="252.3" r="2"/><circle cx="130" cy="258.3" r="1.3"/><circle cx="126.7" cy="264.5" r="1.2"/><circle cx="122.8" cy="266.2" r="1.8"/><circle cx="119.2" cy="267.3" r="1.7"/><circle cx="113.7" cy="266.7" r="1.3"/><circle cx="132.5" cy="267.3" r="1.2"/><circle cx="139" cy="268.3" r="1.7"/><circle cx="145" cy="266.7" r="2.5"/><circle cx="119.5" cy="272" r="1.3"/><circle cx="133.7" cy="270.8" r="0.8"/></g><g fill="#ec1c22"><circle cx="162.5" cy="108.7" r="2.3"/><circle cx="170.8" cy="108.7" r="1.8"/><circle cx="180" cy="108.7" r="2.3"/><circle cx="187" cy="108.7" r="2.3"/><circle cx="193.3" cy="109.2" r="3"/><circle cx="215.5" cy="108.7" r="1.8"/><circle cx="220.8" cy="108.7" r="2.3"/><circle cx="193.8" cy="137.5" r="1.2"/><circle cx="173.3" cy="163.7" r="1.7"/><circle cx="164.2" cy="178" r="1.7"/><circle cx="158.3" cy="190.3" r="2"/><circle cx="193.7" cy="178.3" r="1.7"/><circle cx="193.3" cy="183.7" r="1.8"/><circle cx="188" cy="195" r="1.8"/><circle cx="193.7" cy="202" r="1.5"/><circle cx="171.3" cy="224" r="2.7"/><circle cx="194.7" cy="222" r="1.1"/><circle cx="193.7" cy="226.5" r="1.3"/><circle cx="195" cy="232.3" r="1.2"/><circle cx="220.8" cy="227.5" r="1.5"/><circle cx="186.7" cy="240.8" r="2"/><circle cx="187.5" cy="245.8" r="2.2"/><circle cx="193.7" cy="245.3" r="1.5"/><circle cx="195" cy="248.3" r="1"/><circle cx="174.7" cy="247.8" r="2.2"/><circle cx="180" cy="251.2" r="2.2"/><circle cx="180" cy="253.3" r="2"/><circle cx="169.7" cy="252.8" r="1.2"/><circle cx="187.5" cy="252.3" r="1.6"/><circle cx="173.3" cy="257" r="2"/><circle cx="194.2" cy="257.3" r="1.3"/><circle cx="195.3" cy="258.3" r="1.1"/><circle cx="173.3" cy="261.7" r="1.2"/><circle cx="162.5" cy="263.3" r="1.7"/><circle cx="169.7" cy="264.5" r="1.7"/><circle cx="188" cy="265" r="1.6"/><circle cx="196.3" cy="265.7" r="1"/><circle cx="175.3" cy="267.3" r="1.7"/><circle cx="169.7" cy="270.3" r="1.3"/><circle cx="173" cy="270.7" r="1.2"/><circle cx="193.7" cy="270.3" r="2.7"/><circle cx="215.8" cy="245.3" r="2.3"/></g><g fill="#3cb83d"><circle cx="244.7" cy="108.7" r="2.2"/><circle cx="253.7" cy="108.7" r="2.2"/><circle cx="244.7" cy="126.3" r="1.5"/><circle cx="253" cy="171.7" r="1.7"/><circle cx="234.2" cy="226.7" r="1.1"/><circle cx="233.8" cy="242" r="1.2"/><circle cx="241.2" cy="247.8" r="1.5"/><circle cx="247.5" cy="250.7" r="1.6"/><circle cx="233.2" cy="259.4" r="1.4"/><circle cx="234.6" cy="267.6" r="3.2"/><circle cx="241.3" cy="266.2" r="1.3"/><circle cx="247.5" cy="270.3" r="1.2"/><circle cx="253.3" cy="247" r="1.6"/><circle cx="259.7" cy="252.3" r="1.3"/><circle cx="251.7" cy="255.3" r="1.5"/><circle cx="248.7" cy="260" r="1.7"/><circle cx="253.7" cy="259" r="1.5"/><circle cx="259.2" cy="257.8" r="1.2"/><circle cx="251.7" cy="267.3" r="1.7"/><circle cx="259.7" cy="270.8" r="1.5"/></g><g fill="#8fcf90"><circle cx="233" cy="108.7" r="1.5"/></g><g fill="#2e6b30"><circle cx="245.8" cy="265.7" r="1.8"/></g><g fill="#1a9cc4"><circle cx="278.3" cy="108.7" r="2"/><circle cx="283.8" cy="108.7" r="1.6"/><circle cx="288.7" cy="108.7" r="2.5"/><circle cx="307" cy="108.7" r="2.2"/><circle cx="338" cy="108.7" r="2.2"/><circle cx="288" cy="140.8" r="2.8"/><circle cx="282" cy="158" r="2"/><circle cx="340.3" cy="155.3" r="2"/><circle cx="327.5" cy="162" r="1.6"/><circle cx="283.7" cy="168.3" r="1.4"/><circle cx="337.8" cy="172.8" r="2"/><circle cx="316.3" cy="177.5" r="1.8"/><circle cx="284.5" cy="183.3" r="1.2"/><circle cx="283.8" cy="190.5" r="1.3"/><circle cx="288" cy="195.3" r="2.2"/><circle cx="285" cy="215.5" r="1"/><circle cx="284.7" cy="226.5" r="1.1"/><circle cx="284.2" cy="231.7" r="1.3"/><circle cx="288.3" cy="233.2" r="2"/><circle cx="284.2" cy="235" r="1.2"/><circle cx="285" cy="243.7" r="1"/><circle cx="288.3" cy="247.5" r="2.3"/><circle cx="283.8" cy="257.5" r="2.3"/><circle cx="289.7" cy="258.3" r="1.3"/><circle cx="288.7" cy="265" r="2.3"/><circle cx="290" cy="267" r="2.2"/><circle cx="288.7" cy="268.7" r="1.7"/><circle cx="282.5" cy="269.5" r="1.3"/><circle cx="285" cy="271.2" r="1.2"/><circle cx="290.3" cy="271.2" r="1"/><circle cx="308" cy="229" r="2.2"/><circle cx="310" cy="232.8" r="1.6"/><circle cx="329.2" cy="231.2" r="2.2"/><circle cx="320" cy="241.2" r="1.5"/><circle cx="320.8" cy="243.3" r="1.5"/><circle cx="329.2" cy="245.3" r="2.3"/><circle cx="334.2" cy="245" r="1.6"/><circle cx="338" cy="247.8" r="1.5"/><circle cx="340.3" cy="242" r="1.8"/><circle cx="340.3" cy="243.3" r="1.5"/><circle cx="316.3" cy="264.5" r="1.6"/><circle cx="340.5" cy="266.7" r="1.5"/><circle cx="320.8" cy="270.3" r="1.3"/><circle cx="263.3" cy="259" r="1.5"/><circle cx="263.3" cy="267" r="1.7"/><circle cx="263.7" cy="271.7" r="1.1"/></g><g fill="#9256a6"><circle cx="431.3" cy="108.7" r="2"/><circle cx="434.2" cy="108.7" r="1.5"/><circle cx="404.7" cy="165" r="2.2"/><circle cx="434.2" cy="174.2" r="1.6"/><circle cx="408.3" cy="219.2" r="1.6"/><circle cx="408.3" cy="221" r="1.4"/><circle cx="425.5" cy="230.7" r="2.7"/><circle cx="408.3" cy="244.2" r="2.5"/><circle cx="398.3" cy="249.5" r="1.7"/><circle cx="401.2" cy="254.5" r="1.4"/><circle cx="430.8" cy="246.7" r="1.5"/><circle cx="427.8" cy="250.3" r="1.8"/><circle cx="435" cy="238.7" r="1"/><circle cx="434.5" cy="245.3" r="1.5"/><circle cx="408.8" cy="260" r="1.5"/><circle cx="408.3" cy="263.7" r="1.8"/><circle cx="408.7" cy="265.7" r="1.8"/><circle cx="408.8" cy="268.7" r="1.3"/><circle cx="404.5" cy="267.3" r="1.4"/><circle cx="423.3" cy="265.3" r="1"/><circle cx="432" cy="271.2" r="1.3"/><circle cx="401.3" cy="272" r="1"/><circle cx="435" cy="264.5" r="1"/><circle cx="448.7" cy="108.7" r="2"/><circle cx="464.2" cy="108.7" r="2.2"/><circle cx="493.3" cy="108.7" r="2.3"/><circle cx="497.5" cy="108.7" r="2.7"/><circle cx="507.5" cy="108.7" r="1.8"/><circle cx="510" cy="108.7" r="1.8"/><circle cx="518.5" cy="108.7" r="2.2"/><circle cx="528" cy="108.7" r="2"/><circle cx="537.5" cy="108.7" r="1.6"/><circle cx="544.2" cy="108.7" r="2"/><circle cx="546.7" cy="108.7" r="2"/><circle cx="497.5" cy="121.2" r="2.2"/><circle cx="498.3" cy="140.3" r="1.2"/><circle cx="528.3" cy="145.3" r="2"/><circle cx="498.3" cy="162.5" r="1.3"/><circle cx="473.7" cy="172.5" r="1.8"/><circle cx="478.8" cy="177.8" r="2"/><circle cx="492.5" cy="176.2" r="1.8"/><circle cx="494.7" cy="175.3" r="1.8"/><circle cx="497" cy="179.7" r="1.6"/><circle cx="506.3" cy="178.3" r="2"/><circle cx="510.8" cy="177.8" r="1.8"/><circle cx="528.3" cy="172.8" r="1.8"/><circle cx="497.8" cy="187.2" r="1.4"/><circle cx="518.5" cy="185" r="2"/><circle cx="514.9" cy="188.3" r="1.6"/><circle cx="525.7" cy="188.2" r="1.6"/><circle cx="478.3" cy="209.2" r="1.6"/><circle cx="498.3" cy="218" r="1.3"/><circle cx="498.3" cy="219.5" r="1.3"/><circle cx="445.8" cy="224" r="3.3"/><circle cx="445.3" cy="238.7" r="1.8"/><circle cx="448.3" cy="242.8" r="1.5"/><circle cx="448.7" cy="247.8" r="1.3"/><circle cx="449.2" cy="249.5" r="1.3"/><circle cx="449.2" cy="254.5" r="1.3"/><circle cx="448.7" cy="263.7" r="1.1"/><circle cx="450" cy="265.7" r="1.1"/><circle cx="445.3" cy="270.8" r="1.2"/><circle cx="498" cy="240.7" r="1.8"/><circle cx="497" cy="243.3" r="1.8"/><circle cx="488.3" cy="252.3" r="1.8"/><circle cx="490" cy="257.8" r="1.8"/><circle cx="493.3" cy="263.3" r="1.5"/><circle cx="498.3" cy="267" r="1.5"/><circle cx="478.7" cy="267" r="1.5"/><circle cx="482" cy="269.5" r="1.8"/><circle cx="495" cy="271.2" r="1.2"/><circle cx="514.7" cy="235" r="1.8"/><circle cx="514.7" cy="240.7" r="2"/><circle cx="523.3" cy="242.8" r="1.6"/><circle cx="520.8" cy="246.7" r="1.8"/><circle cx="528" cy="244.2" r="1.8"/><circle cx="528.3" cy="249" r="1.5"/><circle cx="520" cy="257" r="1.2"/><circle cx="506.7" cy="265" r="1.8"/><circle cx="509.2" cy="265.3" r="1.8"/><circle cx="512" cy="265" r="1.8"/><circle cx="508.3" cy="267" r="1.5"/><circle cx="513.3" cy="266.7" r="1.5"/><circle cx="518" cy="266.2" r="1.8"/><circle cx="520" cy="267" r="1.8"/><circle cx="523.3" cy="263.3" r="1.5"/><circle cx="525" cy="266.7" r="1.8"/><circle cx="528.3" cy="266.2" r="1.8"/><circle cx="528.3" cy="263.3" r="1.3"/><circle cx="506.7" cy="272.8" r="1.2"/><circle cx="519.2" cy="269.5" r="1.2"/><circle cx="518.3" cy="272" r="1"/><circle cx="545.3" cy="228.7" r="2"/><circle cx="542.5" cy="265" r="1.6"/><circle cx="539.7" cy="267" r="1.3"/><circle cx="547.2" cy="272.3" r="1"/></g><g fill="#5e4a62"><circle cx="487" cy="108.7" r="2"/></g><g fill="#555"><circle cx="461.7" cy="269.5" r="1.5"/></g><g fill="none" stroke="#222" stroke-width="0.8"><circle cx="244.2" cy="265.7" r="1.8"/><circle cx="397.2" cy="269.2" r="1.8"/><circle cx="481.7" cy="230" r="2"/></g><g fill="none" stroke="#15509a" stroke-width="0.8"><circle cx="129.5" cy="108.7" r="1.6"/></g></g><!--enddots-->
<!-- phylum bars -->
<rect x="81.6" y="295" width="77.1" height="18.8" fill="#1f4e8a"/>
<rect x="158.7" y="295" width="69.4" height="18.8" fill="#e52d30"/>
<rect x="232.3" y="295" width="30.5" height="18.8" fill="#4caf4f"/>
<rect x="262.8" y="295" width="78.9" height="18.8" fill="#2b9ab5"/>
<rect x="386" y="295" width="163.3" height="18.8" fill="#9768a0"/>
<!-- pink/white line -->
<rect x="448.9" y="295" width="1.2" height="18.8" fill="#fff" fill-opacity="0.85"/>
<!-- axes -->
<g stroke="#333" stroke-width="1.2" fill="none">
<line x1="57.5" y1="41.9" x2="57.5" y2="314.4"/>
<line x1="56.9" y1="314" x2="589.3" y2="314"/>
<line x1="55" y1="43.4" x2="57.5" y2="43.4"/>
<line x1="55" y1="104.95" x2="57.5" y2="104.95"/>
<line x1="55" y1="166.5" x2="57.5" y2="166.5"/>
<line x1="55" y1="228.05" x2="57.5" y2="228.05"/>
<line x1="55" y1="289.6" x2="57.5" y2="289.6"/>
<line x1="120.3" y1="314" x2="120.3" y2="316.5"/>
<line x1="193.3" y1="314" x2="193.3" y2="316.5"/>
<line x1="247.2" y1="314" x2="247.2" y2="316.5"/>
<line x1="302.2" y1="314" x2="302.2" y2="316.5"/>
<line x1="467.6" y1="314" x2="467.6" y2="316.5"/>
</g>
<!-- y tick labels -->
<g class="yt" text-anchor="middle">
<text x="47.5" y="47.35">20</text>
<text x="47.6" y="108.9">15</text>
<text x="47.6" y="170.45">10</text>
<text x="47.1" y="232">5</text>
<text x="47.1" y="293.55">0</text>
</g>
<text style="font-size:10.7px;fill:#1a1a1a;stroke:#1a1a1a;stroke-width:0.2px" transform="translate(37.6,175.6) rotate(-90)" text-anchor="middle">-log10(adjP)</text>
<!-- x tick labels -->
<g class="xt" text-anchor="end">
<text transform="translate(123.5,324.5) rotate(-30)">Acidobacteria</text>
<text transform="translate(196.5,324.5) rotate(-30)">Actinobacteria</text>
<text transform="translate(250.5,324.5) rotate(-30)">Bacteroidetes</text>
<text transform="translate(305.5,324.5) rotate(-30)">Chloroflexi</text>
<text transform="translate(471,324.5) rotate(-30)">Proteobacteria</text>
</g>
<!-- annotation labels -->
<g class="lab">
<text x="84.5" y="84" textLength="52.4" lengthAdjust="spacingAndGlyphs">Subgroup_7</text>
<text x="143.3" y="87.2" textLength="55.9" lengthAdjust="spacingAndGlyphs">Nocardioides</text>
<text x="166.5" y="72.8" textLength="110.9" lengthAdjust="spacingAndGlyphs">Bacteroidetes_vadinHA17</text>
<text x="245.4" y="87.4" textLength="50.9" lengthAdjust="spacingAndGlyphs">Anaerolinea</text>
<text x="303.5" y="86.6" textLength="36.5" lengthAdjust="spacingAndGlyphs">UTCFX1</text>
<text x="389.5" y="87.1" textLength="44.8" lengthAdjust="spacingAndGlyphs">Geobacter</text>
<text x="415.5" y="71.6" textLength="80.9" lengthAdjust="spacingAndGlyphs">Anaeromyxobacter</text>
<text x="457.2" y="86.7" textLength="39.0" lengthAdjust="spacingAndGlyphs">Ellin6067</text>
<text x="503.7" y="87.1" textLength="37.8" lengthAdjust="spacingAndGlyphs">GOUTA6</text>
<text x="548.3" y="84.8" textLength="12.6" lengthAdjust="spacingAndGlyphs">SC</text>
<text transform="translate(561.3,84.8) scale(1.45,1)">-</text>
<text x="567.0" y="84.8">I</text>
<text transform="translate(570.0,84.8) scale(1.45,1)">-</text>
<text x="575.0" y="84.8" textLength="10.6" lengthAdjust="spacingAndGlyphs">84</text>
</g>
<g stroke="#1a1a1a" stroke-width="1.1" fill="none">
<line x1="223.6" y1="75" x2="237.3" y2="90.9"/>
<line x1="301.6" y1="84" x2="285.4" y2="90.9"/>
<line x1="455.8" y1="75.4" x2="455.8" y2="90.7"/>
<line x1="497.4" y1="84.7" x2="516.6" y2="90.6"/>
<line x1="545.5" y1="82.5" x2="531.8" y2="90.9"/>
</g>
</svg>
</body></html>
